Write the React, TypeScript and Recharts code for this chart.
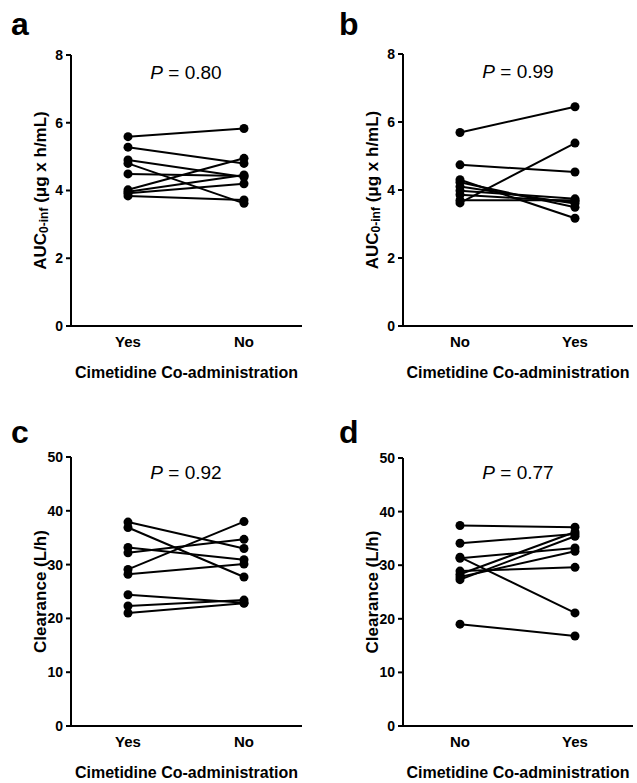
import React from "react";
import { LineChart, Line, XAxis, YAxis, Label } from "recharts";

// panel a: AUC, Yes -> No
const aCategories = ["Yes", "No"];
const aFirst = [5.59, 5.28, 4.9, 4.8, 4.49, 4.02, 3.96, 3.92, 3.84];
const aSecond = [5.83, 4.8, 4.4, 3.62, 4.43, 4.95, 4.46, 4.2, 3.72];

// panel b: AUC, No -> Yes
const bCategories = ["No", "Yes"];
const bFirst = [5.69, 4.74, 3.62, 4.3, 4.23, 4.1, 3.98, 3.86, 3.7];
const bSecond = [6.45, 4.53, 5.38, 3.17, 3.49, 3.6, 3.74, 3.66, 3.7];

// panel c: clearance, Yes -> No
const cCategories = ["Yes", "No"];
const cFirst = [37.9, 36.9, 33.2, 32.2, 29.1, 28.2, 24.4, 22.3, 21.0];
const cSecond = [33.0, 27.7, 30.9, 34.7, 38.0, 30.1, 22.9, 23.4, 22.8];

// panel d: clearance, No -> Yes
const dCategories = ["No", "Yes"];
const dFirst = [37.4, 34.1, 31.5, 31.3, 28.9, 28.3, 27.8, 27.3, 19.0];
const dSecond = [37.1, 35.8, 21.1, 33.2, 29.6, 36.2, 32.6, 35.4, 16.8];

const aucTicks = [0, 2, 4, 6, 8];
const clearanceTicks = [0, 10, 20, 30, 40, 50];

const xTitle = "Cimetidine Co-administration";
const font = "'Liberation Sans', Arial, sans-serif";

function buildRows(categories: string[], first: number[], second: number[]) {
  const row0: any = { cat: categories[0] };
  const row1: any = { cat: categories[1] };
  first.forEach((v, i) => {
    row0["s" + i] = v;
    row1["s" + i] = second[i];
  });
  return [row0, row1];
}

const AucLabel = (props: any) => {
  const vb = props.viewBox || { x: 0, y: 0, width: 71, height: 270 };
  const cx = vb.x + 40;
  const cy = vb.y + vb.height / 2;
  return (
    <text
      x={cx}
      y={cy}
      transform={`rotate(-90, ${cx}, ${cy})`}
      textAnchor="middle"
      dominantBaseline="central"
      fontFamily={font}
      fontWeight="bold"
      fontSize={17}
      fill="#000"
    >
      AUC
      <tspan fontSize={12} dy={4}>
        0-inf
      </tspan>
      <tspan dy={-4}> (μg x h/mL)</tspan>
    </text>
  );
};

const ClearanceLabel = (props: any) => {
  const vb = props.viewBox || { x: 0, y: 0, width: 71, height: 270 };
  const cx = vb.x + 40;
  const cy = vb.y + vb.height / 2;
  return (
    <text
      x={cx}
      y={cy}
      transform={`rotate(-90, ${cx}, ${cy})`}
      textAnchor="middle"
      dominantBaseline="central"
      fontFamily={font}
      fontWeight="bold"
      fontSize={17}
      fill="#000"
    >
      Clearance (L/h)
    </text>
  );
};

type PanelProps = {
  left: number;
  top: number;
  width: number;
  height: number;
  margin: { top: number; right: number; bottom: number; left: number };
  categories: string[];
  first: number[];
  second: number[];
  ticks: number[];
  yLabel: any;
};

function Panel(p: PanelProps) {
  const rows = buildRows(p.categories, p.first, p.second);
  const max = p.ticks[p.ticks.length - 1];
  return (
    <div style={{ position: "absolute", left: p.left, top: p.top }}>
      <LineChart width={p.width} height={p.height} data={rows} margin={p.margin}>
        <XAxis
          dataKey="cat"
          type="category"
          height={52}
          padding={{ left: 57, right: 58 }}
          tickLine={false}
          axisLine={{ stroke: "#000", strokeWidth: 2 }}
          tick={{ fill: "#000", fontSize: 15, fontWeight: "bold", fontFamily: font }}
          tickMargin={4}
        >
          <Label
            value={xTitle}
            position="insideBottom"
            offset={0}
            style={{ fill: "#000", fontSize: 16, fontWeight: "bold", fontFamily: font }}
          />
        </XAxis>
        <YAxis
          width={71}
          domain={[0, max]}
          ticks={p.ticks}
          interval={0}
          tickSize={5}
          tickMargin={3}
          axisLine={{ stroke: "#000", strokeWidth: 2 }}
          tickLine={{ stroke: "#000", strokeWidth: 2 }}
          tick={{ fill: "#000", fontSize: 14, fontWeight: "bold", fontFamily: font }}
        >
          <Label content={p.yLabel} />
        </YAxis>
        {p.first.map((_, i) => (
          <Line
            key={i}
            dataKey={"s" + i}
            stroke="#000"
            strokeWidth={2}
            dot={{ r: 4.5, fill: "#000", stroke: "#000", strokeWidth: 0 }}
            isAnimationActive={false}
          />
        ))}
      </LineChart>
    </div>
  );
}

const pStyle = { fontFamily: font, fontSize: 19, fill: "#000" } as const;

export default function App() {
  return (
    <div
      style={{
        position: "absolute",
        left: 0,
        top: 0,
        width: 637,
        height: 783,
        background: "#fff",
        overflow: "hidden",
      }}
    >
      <Panel
        left={0}
        top={0}
        width={318}
        height={390}
        margin={{ top: 55, right: 16, bottom: 12, left: 0 }}
        categories={aCategories}
        first={aFirst}
        second={aSecond}
        ticks={aucTicks}
        yLabel={AucLabel}
      />
      <Panel
        left={332}
        top={0}
        width={305}
        height={390}
        margin={{ top: 54, right: 4, bottom: 12, left: 0 }}
        categories={bCategories}
        first={bFirst}
        second={bSecond}
        ticks={aucTicks}
        yLabel={AucLabel}
      />
      <Panel
        left={0}
        top={400}
        width={318}
        height={383}
        margin={{ top: 57, right: 16, bottom: 5, left: 0 }}
        categories={cCategories}
        first={cFirst}
        second={cSecond}
        ticks={clearanceTicks}
        yLabel={ClearanceLabel}
      />
      <Panel
        left={332}
        top={400}
        width={305}
        height={383}
        margin={{ top: 58, right: 4, bottom: 5, left: 0 }}
        categories={dCategories}
        first={dFirst}
        second={dSecond}
        ticks={clearanceTicks}
        yLabel={ClearanceLabel}
      />
      <svg
        width={637}
        height={783}
        style={{ position: "absolute", left: 0, top: 0, pointerEvents: "none" }}
      >
        <g fontFamily={font} fontWeight="bold" fontSize={32} fill="#000">
          <text x={11} y={35}>a</text>
          <text x={339} y={35}>b</text>
          <text x={11} y={443}>c</text>
          <text x={339} y={443}>d</text>
        </g>
        <text x={186} y={79} textAnchor="middle" style={pStyle}>
          <tspan fontStyle="italic">P</tspan> = 0.80
        </text>
        <text x={518} y={78} textAnchor="middle" style={pStyle}>
          <tspan fontStyle="italic">P</tspan> = 0.99
        </text>
        <text x={186} y={479} textAnchor="middle" style={pStyle}>
          <tspan fontStyle="italic">P</tspan> = 0.92
        </text>
        <text x={518} y={479} textAnchor="middle" style={pStyle}>
          <tspan fontStyle="italic">P</tspan> = 0.77
        </text>
      </svg>
    </div>
  );
}
